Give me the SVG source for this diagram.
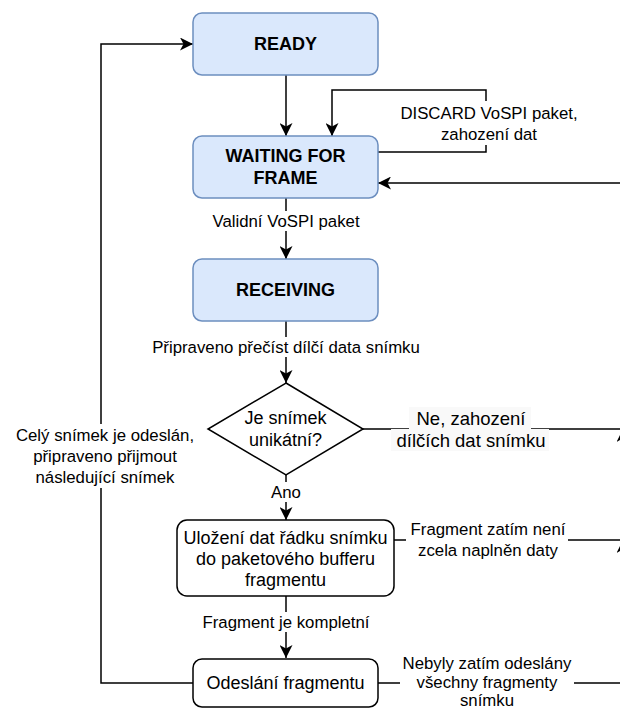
<svg xmlns="http://www.w3.org/2000/svg" width="620" height="709" viewBox="0 0 620 709">
<defs>
<marker id="arr" viewBox="0 0 13 13" refX="13" refY="6.5" markerWidth="13" markerHeight="13" markerUnits="userSpaceOnUse" orient="auto">
<path d="M13,6.5 L0,0 L3.5,6.5 L0,13 Z" fill="#000"/>
</marker>
</defs>
<style>
.state{fill:#dae8fc;stroke:#6c8ebf;stroke-width:1.5}
.plain{fill:#fff;stroke:#000;stroke-width:1.5}
.edge{fill:none;stroke:#000;stroke-width:1.5;marker-end:url(#arr)}
.t{font-family:"Liberation Sans",Arial,sans-serif;fill:#000;text-anchor:middle;dominant-baseline:central}
.b{font-weight:bold;font-size:18px}
.n{font-size:18px}
.l{font-size:16.8px}
.lb{fill:#fff;stroke:none}
</style>
<rect width="620" height="709" fill="#fff"/>
<g id="connectors">
<path class="edge" d="M286,75 L286,136"/>
<path class="edge" d="M378,152 L486,152 L486,90 L332,90 L332,136"/>
<path class="edge" d="M286,198 L286,259"/>
<path class="edge" d="M286,321 L286,383"/>
<path class="edge" d="M363,429 L623,429 L623,183 L378,183"/>
<path class="edge" d="M286,475 L286,520"/>
<path class="edge" d="M394,540 L623,540 L623,429"/>
<path class="edge" d="M286,596 L286,658"/>
<path class="edge" d="M378,683 L623,683 L623,540"/>
<path class="edge" d="M193,683 L101,683 L101,44 L193,44"/>
<g id="edge-labels">
<rect class="lb" x="397" y="101" width="184" height="44"/>
<text class="t l" x="489" y="113">DISCARD VoSPI paket,</text>
<text class="t l" x="489" y="134">zahození dat</text>
<rect class="lb" x="209" y="211" width="154" height="20"/>
<text class="t l" x="286" y="221">Validní VoSPI paket</text>
<rect class="lb" x="150" y="337" width="272" height="20"/>
<text class="t l" x="286" y="347">Připraveno přečíst dílčí data snímku</text>
<rect x="409" y="407" width="122" height="22" fill="#f9f9f9"/>
<rect x="391" y="429" width="158" height="22" fill="#f9f9f9"/>
<text class="t n" x="471" y="418" style="font-size:18.5px">Ne, zahození</text>
<text class="t n" x="471" y="440" style="font-size:18.5px">dílčích dat snímku</text>
<rect class="lb" x="269" y="482" width="34" height="20"/>
<text class="t l" x="286" y="492">Ano</text>
<rect class="lb" x="406" y="518" width="162" height="44"/>
<text class="t l" x="488" y="529.5">Fragment zatím není</text>
<text class="t l" x="488" y="550.5">zcela naplněn daty</text>
<rect class="lb" x="200" y="612" width="172" height="20"/>
<text class="t l" x="286" y="622">Fragment je kompletní</text>
<rect class="lb" x="400" y="652" width="174" height="60"/>
<text class="t l" x="487" y="663">Nebyly zatím odeslány</text>
<text class="t l" x="487" y="682">všechny fragmenty</text>
<text class="t l" x="487" y="700">snímku</text>
<rect class="lb" x="12" y="424" width="188" height="64"/>
<text class="t l" x="105" y="435">Celý snímek je odeslán,</text>
<text class="t l" x="105" y="456">připraveno přijmout</text>
<text class="t l" x="105" y="477">následující snímek</text>
</g>
</g>
<g id="ready">
<rect class="state" x="193" y="13" width="185" height="62" rx="9"/>
<text class="t b" x="285.5" y="44">READY</text>
</g>
<g id="waiting">
<rect class="state" x="193" y="136" width="185" height="62" rx="9"/>
<text class="t b" x="285.5" y="156">WAITING FOR</text>
<text class="t b" x="285.5" y="178">FRAME</text>
</g>
<g id="receiving">
<rect class="state" x="193" y="259" width="185" height="62" rx="9"/>
<text class="t b" x="285.5" y="290">RECEIVING</text>
</g>
<g id="unique">
<polygon class="plain" points="286,383 363,429 286,475 208,429"/>
<text class="t n" x="285.5" y="418">Je snímek</text>
<text class="t n" x="285.5" y="440">unikátní?</text>
</g>
<g id="store">
<rect class="plain" x="177" y="520" width="217" height="76" rx="10"/>
<text class="t n" x="285.5" y="538">Uložení dat řádku snímku</text>
<text class="t n" x="285.5" y="559">do paketového bufferu</text>
<text class="t n" x="285.5" y="580">fragmentu</text>
</g>
<g id="send">
<rect class="plain" x="193" y="659" width="185" height="48" rx="9"/>
<text class="t n" x="285.5" y="683">Odeslání fragmentu</text>
</g>
</svg>
